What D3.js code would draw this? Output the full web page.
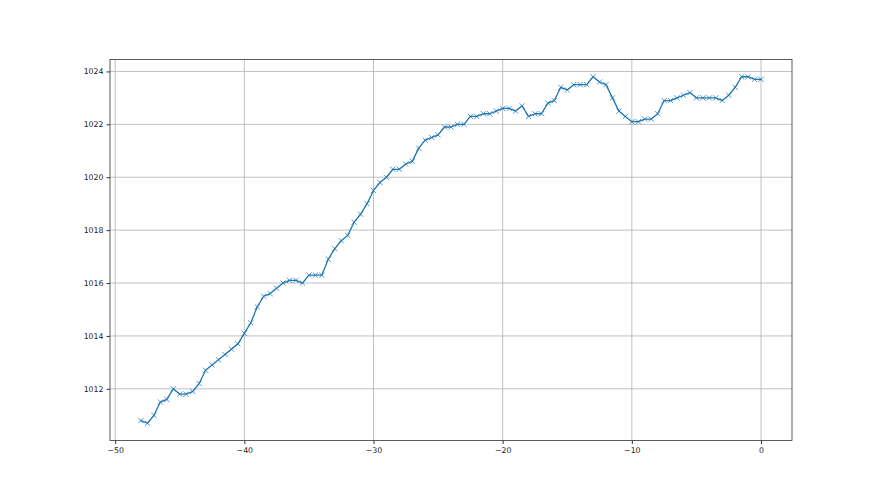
<!DOCTYPE html>
<html>
<head>
<meta charset="utf-8">
<script src="https://cdn.jsdelivr.net/npm/d3@7"></script>
<style>
  body { margin: 0; background: #fff; }
  .tick text { font-family: "DejaVu Sans", sans-serif; font-size: 7.8px; fill: #222; }
</style>
</head>
<body>
<div class="chart"></div>
<script>
var svgWidth = 880;
var svgHeight = 495;

var margin = { top: 59.4, right: 88, bottom: 54.45, left: 110 };
var width = svgWidth - margin.left - margin.right;
var height = svgHeight - margin.top - margin.bottom;

// hours relative to now
var hours = [
  -48, -47.5, -47, -46.5, -46, -45.5, -45, -44.5, -44, -43.5,
  -43, -42.5, -42, -41.5, -41, -40.5, -40, -39.5, -39, -38.5,
  -38, -37.5, -37, -36.5, -36, -35.5, -35, -34.5, -34, -33.5,
  -33, -32.5, -32, -31.5, -31, -30.5, -30, -29.5, -29, -28.5,
  -28, -27.5, -27, -26.5, -26, -25.5, -25, -24.5, -24, -23.5,
  -23, -22.5, -22, -21.5, -21, -20.5, -20, -19.5, -19, -18.5,
  -18, -17.5, -17, -16.5, -16, -15.5, -15, -14.5, -14, -13.5,
  -13, -12.5, -12, -11.5, -11, -10.5, -10, -9.5, -9, -8.5,
  -8, -7.5, -7, -6.5, -6, -5.5, -5, -4.5, -4, -3.5,
  -3, -2.5, -2, -1.5, -1, -0.5, 0
];

// pressure readings
var pressure = [
  1010.8, 1010.7, 1011.0, 1011.5, 1011.6, 1012.0, 1011.8, 1011.8, 1011.9, 1012.2,
  1012.7, 1012.9, 1013.1, 1013.3, 1013.5, 1013.7, 1014.1, 1014.5, 1015.1, 1015.5,
  1015.6, 1015.8, 1016.0, 1016.1, 1016.1, 1016.0, 1016.3, 1016.3, 1016.3, 1016.9,
  1017.3, 1017.6, 1017.8, 1018.3, 1018.6, 1019.0, 1019.5, 1019.8, 1020.0, 1020.3,
  1020.3, 1020.5, 1020.6, 1021.1, 1021.4, 1021.5, 1021.6, 1021.9, 1021.9, 1022.0,
  1022.0, 1022.3, 1022.3, 1022.4, 1022.4, 1022.5, 1022.6, 1022.6, 1022.5, 1022.7,
  1022.3, 1022.4, 1022.4, 1022.8, 1022.9, 1023.4, 1023.3, 1023.5, 1023.5, 1023.5,
  1023.8, 1023.6, 1023.5, 1023.0, 1022.5, 1022.3, 1022.1, 1022.1, 1022.2, 1022.2,
  1022.4, 1022.9, 1022.9, 1023.0, 1023.1, 1023.2, 1023.0, 1023.0, 1023.0, 1023.0,
  1022.9, 1023.1, 1023.4, 1023.8, 1023.8, 1023.7, 1023.7
];

var xTicks = [-50, -40, -30, -20, -10, 0];
var yTicks = [1012, 1014, 1016, 1018, 1020, 1022, 1024];

var data = hours.map(function(h, i) { return { x: h, y: pressure[i] }; });

var svg = d3.select(".chart")
  .append("svg")
  .attr("width", svgWidth)
  .attr("height", svgHeight);

var chartGroup = svg.append("g")
  .attr("transform", `translate(${margin.left}, ${margin.top})`);

// matplotlib style 5% margins
var xMin = d3.min(hours), xMax = d3.max(hours);
var yMin = d3.min(pressure), yMax = d3.max(pressure);
var xPad = (xMax - xMin) * 0.05, yPad = (yMax - yMin) * 0.05;

var xScale = d3.scaleLinear()
  .domain([xMin - xPad, xMax + xPad])
  .range([0, width]);

var yScale = d3.scaleLinear()
  .domain([yMin - yPad, yMax + yPad])
  .range([height, 0]);

// grid
chartGroup.append("g")
  .selectAll("line")
  .data(xTicks)
  .enter()
  .append("line")
  .attr("x1", d => xScale(d)).attr("x2", d => xScale(d))
  .attr("y1", 0).attr("y2", height)
  .attr("stroke", "#b0b0b0")
  .attr("stroke-width", 0.8);

chartGroup.append("g")
  .selectAll("line")
  .data(yTicks)
  .enter()
  .append("line")
  .attr("x1", 0).attr("x2", width)
  .attr("y1", d => yScale(d)).attr("y2", d => yScale(d))
  .attr("stroke", "#b0b0b0")
  .attr("stroke-width", 0.8);

// line
var line = d3.line()
  .x(d => xScale(d.x))
  .y(d => yScale(d.y));

chartGroup.append("path")
  .datum(data)
  .attr("d", line)
  .attr("fill", "none")
  .attr("stroke", "#1f77b4")
  .attr("stroke-width", 1.3)
  .attr("stroke-linejoin", "round")
  .attr("stroke-linecap", "square");

// x markers
var s = 2.6;
chartGroup.append("g")
  .selectAll("path")
  .data(data)
  .enter()
  .append("path")
  .attr("transform", d => `translate(${xScale(d.x)}, ${yScale(d.y)})`)
  .attr("d", `M${-s},${-s}L${s},${s}M${-s},${s}L${s},${-s}`)
  .attr("stroke", "#1f77b4")
  .attr("stroke-opacity", 0.85)
  .attr("stroke-width", 0.9)
  .attr("fill", "none");

// axes
var bottomAxis = d3.axisBottom(xScale)
  .tickValues(xTicks)
  .tickSize(3.5)
  .tickPadding(3)
  .tickFormat(d3.format("d"));

var leftAxis = d3.axisLeft(yScale)
  .tickValues(yTicks)
  .tickSize(3.5)
  .tickPadding(3)
  .tickFormat(d3.format("d"));

var xAxisG = chartGroup.append("g")
  .attr("transform", `translate(0, ${height})`)
  .call(bottomAxis);

var yAxisG = chartGroup.append("g")
  .call(leftAxis);

[xAxisG, yAxisG].forEach(function(g) {
  g.select(".domain").remove();
  g.selectAll(".tick line").attr("stroke", "#000").attr("stroke-width", 0.8);
});

// spines
chartGroup.append("rect")
  .attr("x", 0).attr("y", 0)
  .attr("width", width).attr("height", height)
  .attr("fill", "none")
  .attr("stroke", "#333")
  .attr("stroke-width", 0.8);
</script>
</body>
</html>
